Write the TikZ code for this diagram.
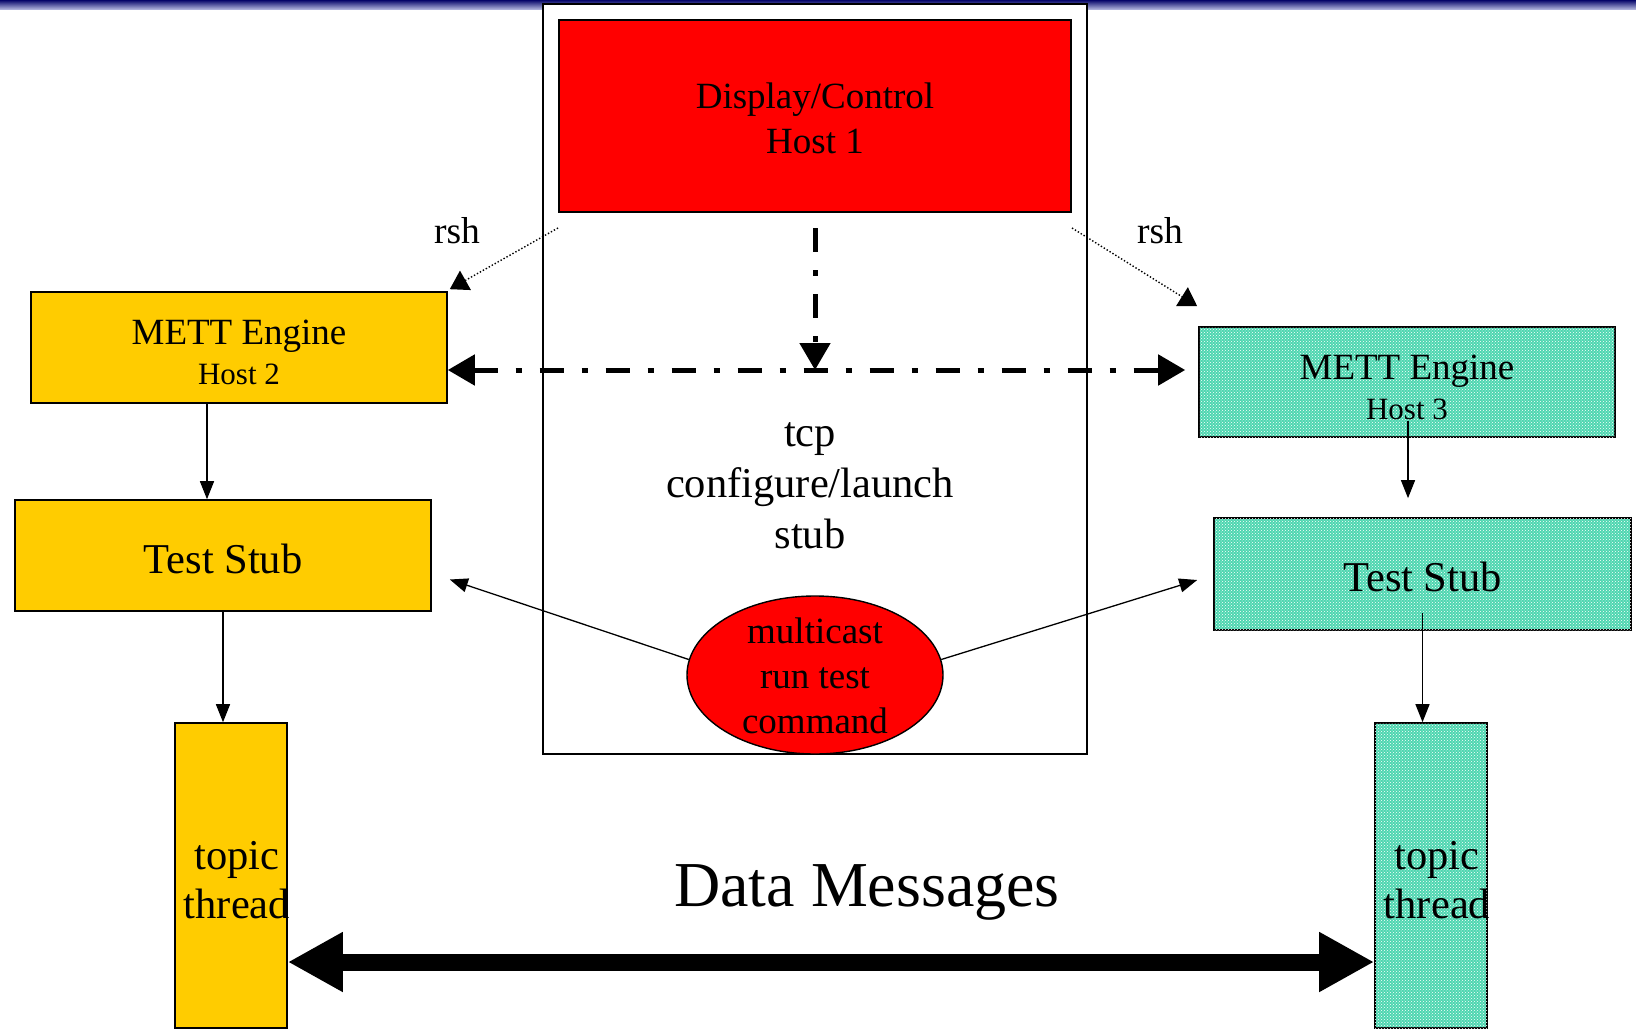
\documentclass[tikz,border=0pt]{standalone}
\usepackage{fontspec}
\setmainfont{Liberation Serif}
\usetikzlibrary{arrows.meta,shapes.geometric,patterns}
\definecolor{navybar}{RGB}{5,5,105}
\definecolor{lightbar}{RGB}{190,195,230}
\definecolor{yel}{RGB}{255,204,0}
\definecolor{tealc}{RGB}{78,214,176}
\begin{document}
\begin{tikzpicture}[x=1pt,y=-1pt,
  box/.style={draw=black, line width=1.6pt, inner sep=0pt},
  yelbox/.style={box, fill=yel},
  tealbox/.style={box, fill=tealc, postaction={pattern=crosshatch dots, pattern color=white}},
  thinarrow/.style={line width=1.3pt, -{Triangle[length=18pt,width=14pt]}},
  rsharrow/.style={line width=1.4pt, dotted, -{Triangle[length=18pt,width=22pt]}},
  dasharrow/.style={line width=5pt, dash pattern=on 24pt off 18pt on 6pt off 18pt},
  bigarrow/.style={line width=17pt, {Triangle[length=55pt,width=56pt]}-{Triangle[length=55pt,width=56pt]}},
  lbl/.style={align=center, inner sep=0pt}
]
\useasboundingbox (0,0) rectangle (1636,1033);
\fill[white] (0,0) rectangle (1636,1033);
\shade[top color=navybar, bottom color=lightbar] (0,0) rectangle (1636,10);

% central frame
\node[box, fill=white, line width=2pt, minimum width=544pt, minimum height=750pt] (frame) at (815,379) {};

% host 1
\node[box, fill=red, line width=2pt, minimum width=512pt, minimum height=192pt] (host1) at (815,116) {};
\node[lbl, font=\fontsize{37}{45}\selectfont] (host1t) at ([yshift=-2pt]host1.center) {Display/Control\\Host 1};

% left side
\node[yelbox, minimum width=416pt, minimum height=111pt] (host2) at (239,347.5) {};
\node[lbl, font=\fontsize{37}{40}\selectfont] (host2t) at ([yshift=-5pt]host2.center)
      {METT Engine\\{\fontsize{31}{40}\selectfont Host 2}};
\node[yelbox, minimum width=416pt, minimum height=111pt] (stubL) at (223,555.5) {};
\node[lbl, font=\fontsize{42.5}{50}\selectfont] (stubLt) at ([yshift=-3pt]stubL.center) {Test Stub};
\node[yelbox, minimum width=112pt, minimum height=305pt] (topicL) at (231,875.5) {};
\node[lbl, font=\fontsize{42.5}{49}\selectfont] (topicLt) at (237,880) {topic\\thread};

% right side
\node[tealbox, minimum width=416pt, minimum height=110pt] (host3) at (1407,382) {};
\node[lbl, font=\fontsize{37}{40}\selectfont] (host3t) at ([yshift=-5pt]host3.center)
      {METT Engine\\{\fontsize{31}{40}\selectfont Host 3}};
\node[tealbox, minimum width=417pt, minimum height=112pt] (stubR) at (1422.5,574) {};
\node[lbl, font=\fontsize{42.5}{50}\selectfont] (stubRt) at ([yshift=-3pt]stubR.center) {Test Stub};
\node[tealbox, minimum width=112pt, minimum height=305pt] (topicR) at (1431,875.5) {};
\node[lbl, font=\fontsize{42.5}{49}\selectfont] (topicRt) at (1437,880) {topic\\thread};

% centre texts
\node[lbl, font=\fontsize{42.5}{51}\selectfont] (tcp) at (810,486) {tcp\\configure/launch\\stub};
\node[ellipse, draw=black, line width=1.4pt, fill=red, minimum width=256pt, minimum height=158pt,
      inner sep=0pt] (mc) at (815,675) {};
\node[lbl, font=\fontsize{37}{45}\selectfont] (mct) at ([yshift=-1pt]mc.center) {multicast\\run test\\command};
\node[lbl, font=\fontsize{37.5}{40}\selectfont] (rshL) at (457,231) {rsh};
\node[lbl, font=\fontsize{37.5}{40}\selectfont] (rshR) at (1160,231) {rsh};
\node[lbl, font=\fontsize{64}{70}\selectfont] (dm) at (867,892) {Data Messages};

% rsh arrows
\draw[rsharrow] ([yshift=-15pt]host1.south west) -- ([xshift=2pt,yshift=2pt]host2.north east);
\draw[rsharrow] ([yshift=-15pt]host1.south east) -- ([xshift=-1pt,yshift=20pt]host3.north west);

% tcp dash-dot arrows
\coordinate (mid) at (815,370);
\draw[dasharrow, -{Triangle[length=27pt,width=30pt]}] ([yshift=-15pt]host1.south) -- (mid);
\draw[dasharrow, {Triangle[length=27pt,width=30pt]}-{Triangle[length=27pt,width=30pt]}]
  (host2.east |- mid) -- ([xshift=-13pt]host3.west |- mid);

% vertical thin arrows
\draw[thinarrow] ([xshift=-32pt]host2.south) -- ([xshift=-16pt]stubL.north);
\draw[thinarrow] (stubL.south) -- (stubL.south |- topicL.north);
\coordinate (h3a) at (host3.south);
\coordinate (h3b) at (host3.south |- stubR.north);
\draw[thinarrow] ([xshift=1pt,yshift=17pt]h3a) -- ([xshift=1pt,yshift=19pt]h3b);
\coordinate (sRa) at (stubR.south);
\draw[thinarrow] ([yshift=18pt]sRa) -- (sRa |- topicR.north);

% multicast arrows
\draw[thinarrow] (mc.173) -- ([xshift=18pt,yshift=-24pt]stubL.east);
\draw[thinarrow] (mc.7) -- ([xshift=-16pt,yshift=-6pt]stubR.west);

% data messages arrow
\coordinate (dmy) at (815,962);
\draw[bigarrow] (topicL.east |- dmy) -- (topicR.west |- dmy);
\end{tikzpicture}
\end{document}
